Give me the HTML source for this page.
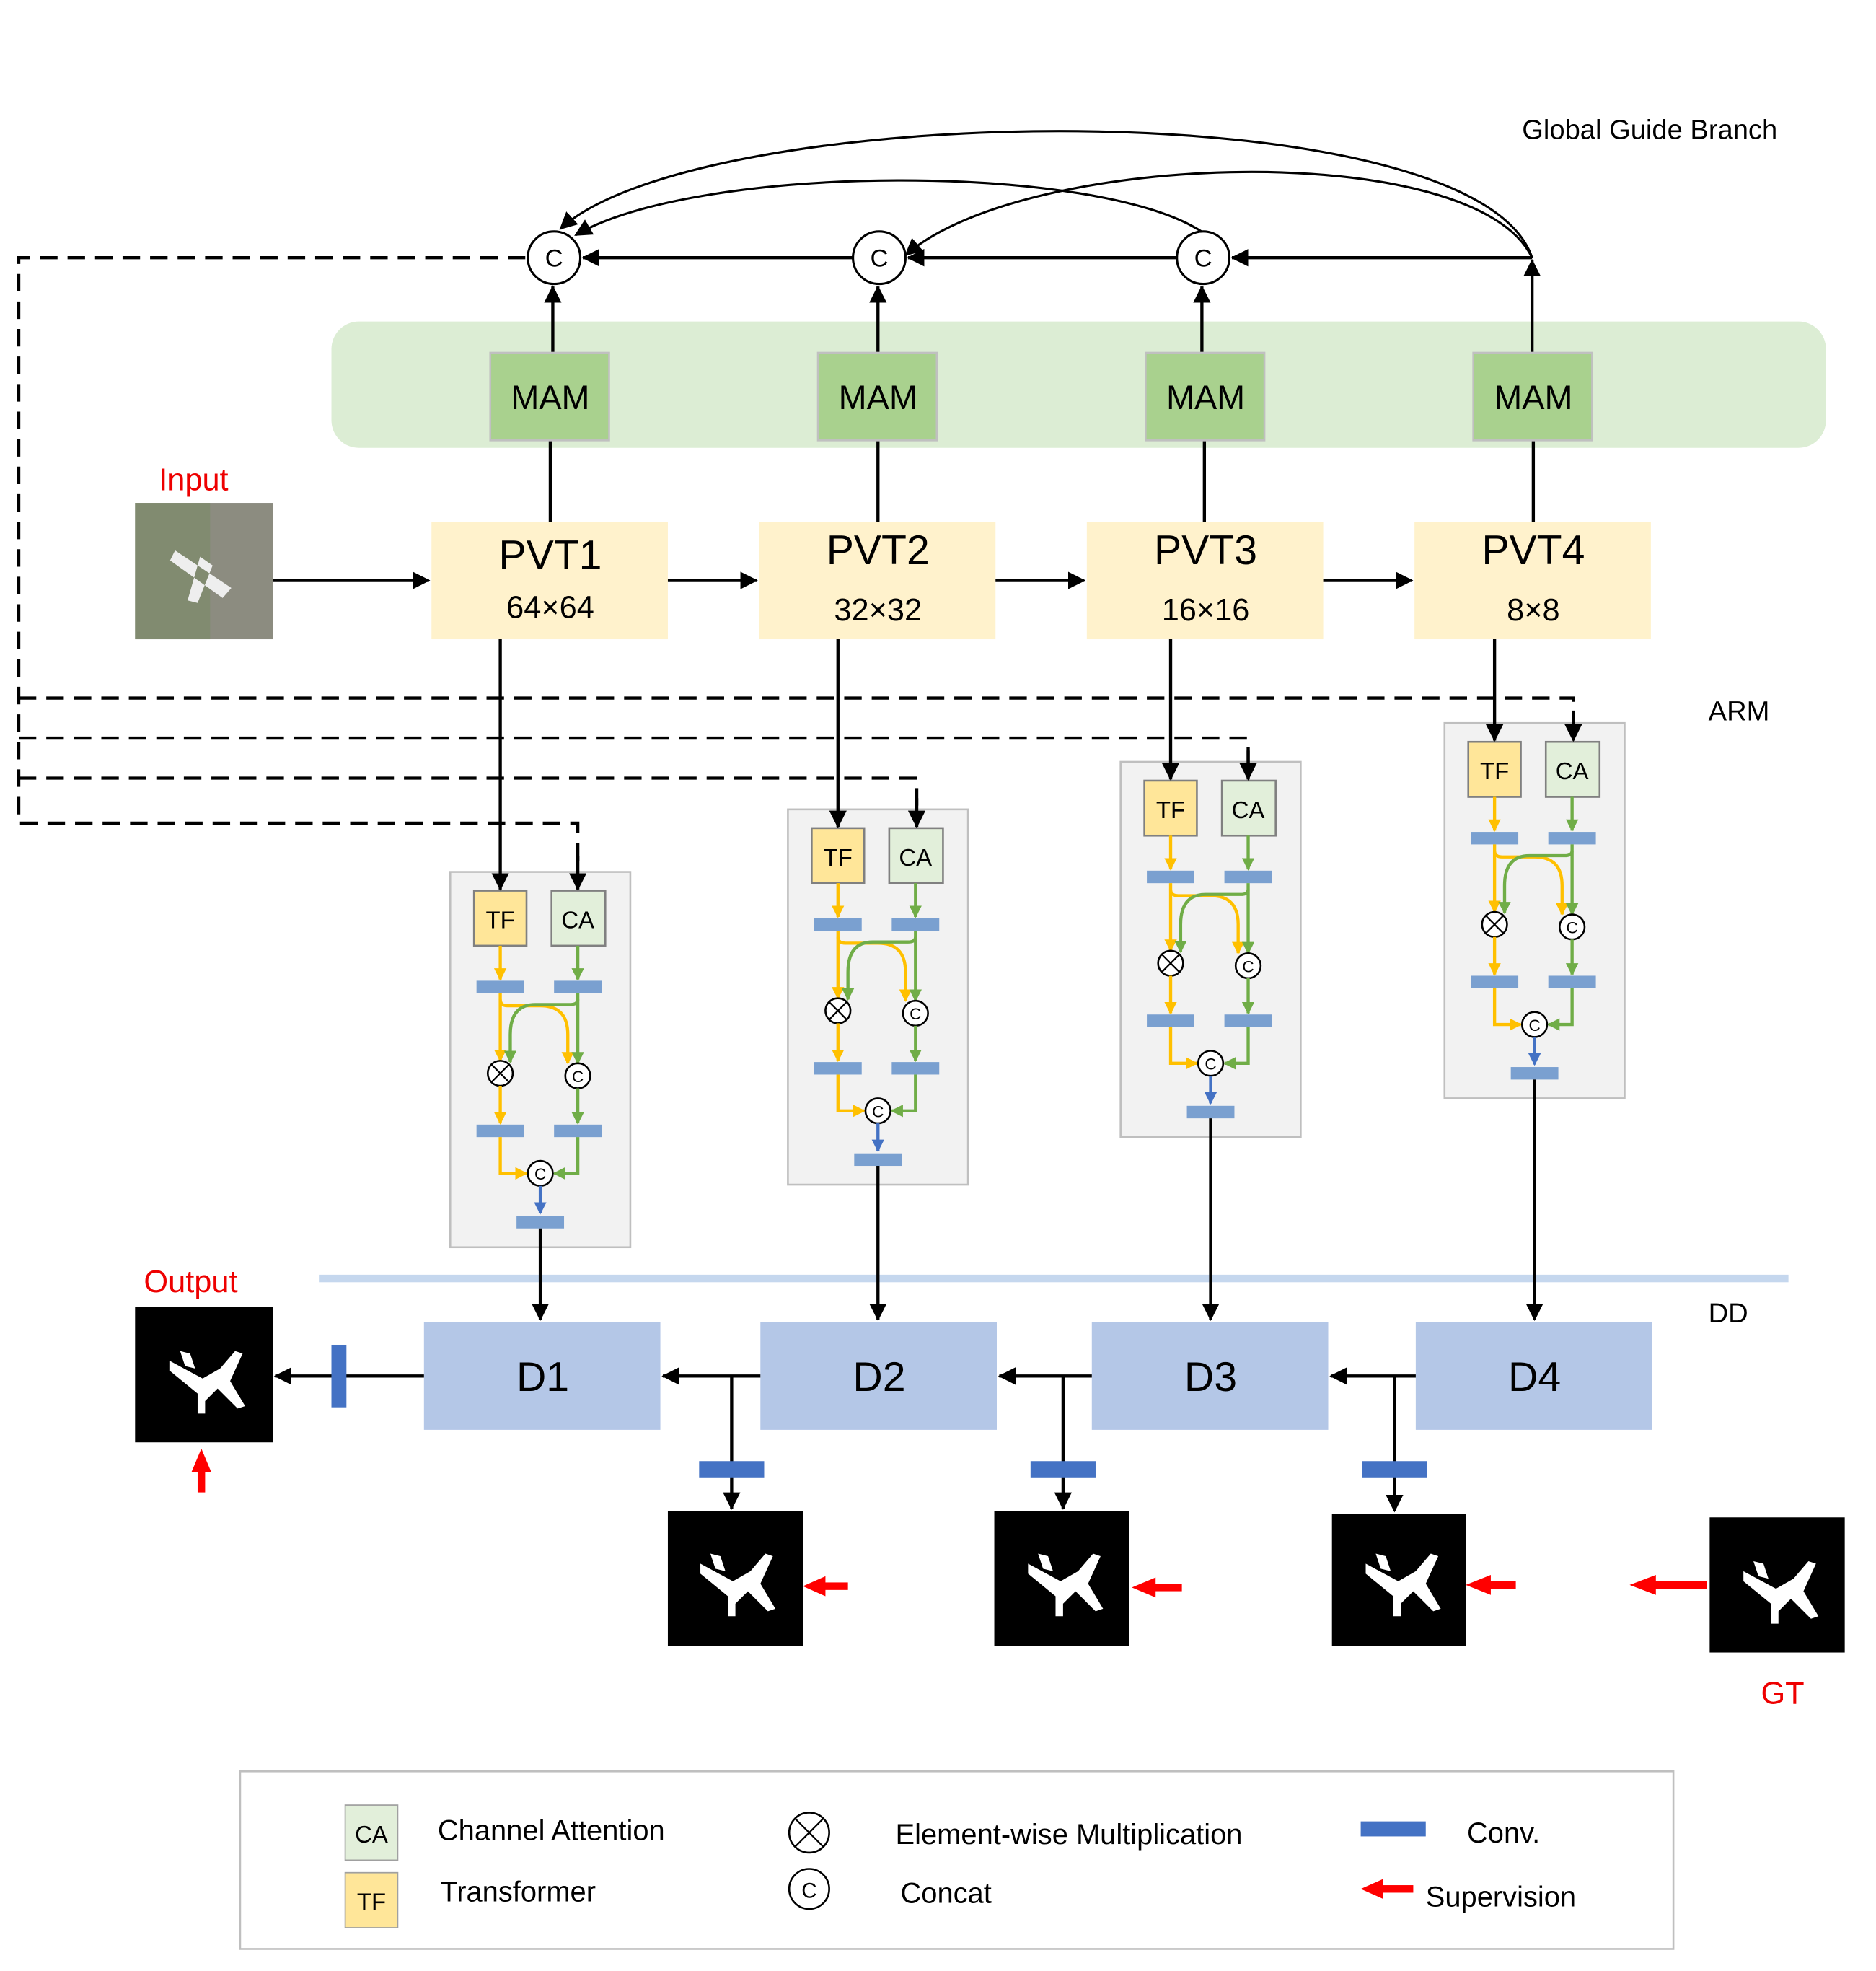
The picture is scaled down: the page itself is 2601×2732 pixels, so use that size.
<!DOCTYPE html>
<html><head><meta charset="utf-8"><style>
html,body{margin:0;padding:0;background:#fff}
svg{display:block}
text{font-family:"Liberation Sans","DejaVu Sans",sans-serif}
</style></head><body>
<svg width="2601" height="2732" viewBox="0 0 1500 1575.6" preserveAspectRatio="none" xmlns="http://www.w3.org/2000/svg">
<defs>
<marker id="akb" markerWidth="14" markerHeight="14" refX="13" refY="7" orient="auto" markerUnits="userSpaceOnUse"><path d="M0,0 L14,7 L0,14z" fill="#000"/></marker>
<marker id="ay" markerWidth="10" markerHeight="10" refX="9" refY="5" orient="auto" markerUnits="userSpaceOnUse"><path d="M0,0 L10,5 L0,10z" fill="#ffc000"/></marker>
<marker id="ag" markerWidth="10" markerHeight="10" refX="9" refY="5" orient="auto" markerUnits="userSpaceOnUse"><path d="M0,0 L10,5 L0,10z" fill="#70ad47"/></marker>
<marker id="ab" markerWidth="10" markerHeight="10" refX="9" refY="5" orient="auto" markerUnits="userSpaceOnUse"><path d="M0,0 L10,5 L0,10z" fill="#4472c4"/></marker>
<g id="plane"><path d="M-30,-12 L-4,2 L10,-6 L22,-20 L28,-18 L18,4 L30,24 L24,26 L8,10 L-2,20 L-2,30 L-8,30 L-8,14 L-30,-4 Z M-22,-20 L-14,-18 L-10,-6 L-18,-8Z" fill="#fff"/></g>
<g id="arm">
<rect x="0" y="0" width="144" height="300" fill="#f2f2f2" stroke="#bfbfbf" stroke-width="1.5"/>
<rect x="19" y="15" width="42" height="44" fill="#ffe699" stroke="#808080" stroke-width="1.5"/>
<rect x="81" y="15" width="43" height="44" fill="#e2efda" stroke="#808080" stroke-width="1.5"/>
<text x="40" y="45" font-size="19" text-anchor="middle">TF</text>
<text x="102" y="45" font-size="19" text-anchor="middle">CA</text>
<line x1="40" y1="59" x2="40" y2="86" stroke="#ffc000" stroke-width="2.5" marker-end="url(#ay)"/>
<line x1="102" y1="59" x2="102" y2="86" stroke="#70ad47" stroke-width="2.5" marker-end="url(#ag)"/>
<rect x="21" y="87" width="38" height="10" fill="#7aa0d0"/>
<rect x="83" y="87" width="38" height="10" fill="#7aa0d0"/>
<path d="M40,97 L40,151" stroke="#ffc000" stroke-width="2.5" fill="none" marker-end="url(#ay)"/>
<path d="M40,102 Q40,107 46,107 L72,107 Q94,107 94,130 L94,153" stroke="#ffc000" stroke-width="2.5" fill="none" marker-end="url(#ay)"/>
<path d="M102,97 L102,153" stroke="#70ad47" stroke-width="2.5" fill="none" marker-end="url(#ag)"/>
<path d="M102,102 Q102,106 96,106 L68,106 Q48,106 48,130 L48,152" stroke="#70ad47" stroke-width="2.5" fill="none" marker-end="url(#ag)"/>
<circle cx="40" cy="161" r="10" fill="#fff" stroke="#000" stroke-width="1.5"/>
<path d="M33,154 L47,168 M47,154 L33,168" stroke="#000" stroke-width="1.3"/>
<circle cx="102" cy="163" r="10" fill="#fff" stroke="#000" stroke-width="1.5"/>
<text x="102" y="168" font-size="13" text-anchor="middle">C</text>
<line x1="40" y1="171" x2="40" y2="201" stroke="#ffc000" stroke-width="2.5" marker-end="url(#ay)"/>
<line x1="102" y1="173" x2="102" y2="201" stroke="#70ad47" stroke-width="2.5" marker-end="url(#ag)"/>
<rect x="21" y="202" width="38" height="10" fill="#7aa0d0"/>
<rect x="83" y="202" width="38" height="10" fill="#7aa0d0"/>
<path d="M40,212 L40,241 L61,241" stroke="#ffc000" stroke-width="2.5" fill="none" marker-end="url(#ay)"/>
<path d="M102,212 L102,241 L83,241" stroke="#70ad47" stroke-width="2.5" fill="none" marker-end="url(#ag)"/>
<circle cx="72" cy="241" r="10" fill="#fff" stroke="#000" stroke-width="1.5"/>
<text x="72" y="246" font-size="13" text-anchor="middle">C</text>
<line x1="72" y1="251" x2="72" y2="273" stroke="#4472c4" stroke-width="2.5" marker-end="url(#ab)"/>
<rect x="53" y="275" width="38" height="10" fill="#7aa0d0"/>
</g>
</defs>

<text x="1217" y="111" font-size="22">Global Guide Branch</text>
<rect x="265" y="257" width="1195" height="101" rx="22" fill="#dcedd4"/>

<path d="M1225,206 C1180,70 560,80 448,183" fill="none" stroke="#000" stroke-width="1.8" marker-end="url(#akb)"/>
<path d="M962,186 C880,130 560,130 460,188" fill="none" stroke="#000" stroke-width="1.8" marker-end="url(#akb)"/>
<path d="M1225,206 C1180,110 820,120 724,204" fill="none" stroke="#000" stroke-width="1.8" marker-end="url(#akb)"/>
<line x1="1225" y1="206" x2="985" y2="206" stroke="#000" stroke-width="2.5" marker-end="url(#akb)"/>
<line x1="941" y1="206" x2="726" y2="206" stroke="#000" stroke-width="2.5" marker-end="url(#akb)"/>
<line x1="682" y1="206" x2="466" y2="206" stroke="#000" stroke-width="2.5" marker-end="url(#akb)"/>
<g fill="#fff" stroke="#000" stroke-width="1.8">
<circle cx="443" cy="206" r="21"/><circle cx="703" cy="206" r="21"/><circle cx="962" cy="206" r="21"/></g>
<g font-size="20" text-anchor="middle"><text x="443" y="213">C</text><text x="703" y="213">C</text><text x="962" y="213">C</text></g>
<g stroke="#000" stroke-width="2.5">
<line x1="442" y1="282" x2="442" y2="229" marker-end="url(#akb)"/>
<line x1="702" y1="282" x2="702" y2="229" marker-end="url(#akb)"/>
<line x1="961" y1="282" x2="961" y2="229" marker-end="url(#akb)"/>
<line x1="1225" y1="282" x2="1225" y2="208" marker-end="url(#akb)"/>
<line x1="440" y1="352" x2="440" y2="417"/><line x1="702" y1="352" x2="702" y2="417"/>
<line x1="963" y1="352" x2="963" y2="417"/><line x1="1226" y1="352" x2="1226" y2="417"/>
</g>
<g fill="#a9d18e" stroke="#c0c0c0" stroke-width="1.5">
<rect x="392" y="282" width="95" height="70"/><rect x="654" y="282" width="95" height="70"/>
<rect x="916" y="282" width="95" height="70"/><rect x="1178" y="282" width="95" height="70"/></g>
<g font-size="27" text-anchor="middle"><text x="440" y="327">MAM</text><text x="702" y="327">MAM</text><text x="964" y="327">MAM</text><text x="1226" y="327">MAM</text></g>

<text x="127" y="392" font-size="25" fill="#e00">Input</text>
<rect x="108" y="402" width="110" height="109" fill="#8c8c80"/>
<rect x="108" y="402" width="60" height="109" fill="#7a8a66" opacity="0.6"/>
<path d="M140,440 L185,470 L178,478 L136,448Z M160,445 L150,480 L158,482 L170,452Z" fill="#eee"/>
<g fill="#fff2cc">
<rect x="345" y="417" width="189" height="94"/><rect x="607" y="417" width="189" height="94"/>
<rect x="869" y="417" width="189" height="94"/><rect x="1131" y="417" width="189" height="94"/></g>
<g font-size="33" text-anchor="middle"><text x="440" y="455">PVT1</text><text x="702" y="451">PVT2</text><text x="964" y="451">PVT3</text><text x="1226" y="451">PVT4</text></g>
<g font-size="25" text-anchor="middle"><text x="440" y="494">64×64</text><text x="702" y="496">32×32</text><text x="964" y="496">16×16</text><text x="1226" y="496">8×8</text></g>
<g stroke="#000" stroke-width="2.5">
<line x1="218" y1="464" x2="343" y2="464" marker-end="url(#akb)"/>
<line x1="534" y1="464" x2="605" y2="464" marker-end="url(#akb)"/>
<line x1="796" y1="464" x2="867" y2="464" marker-end="url(#akb)"/>
<line x1="1058" y1="464" x2="1129" y2="464" marker-end="url(#akb)"/>
</g>
<text x="1366" y="576" font-size="22">ARM</text>
<text x="1366" y="1057" font-size="22">DD</text>

<use href="#arm" x="360" y="697"/>
<use href="#arm" x="630" y="647"/>
<use href="#arm" x="896" y="609"/>
<use href="#arm" x="1155" y="578"/>

<g stroke="#000" stroke-width="2.5" fill="none" stroke-dasharray="14,8">
<path d="M420,206 L15,206 L15,658 L462,658 L462,690"/>
<path d="M15,622 L733,622 L733,644"/>
<path d="M15,590 L998,590 L998,610"/>
<path d="M15,558 L1258,558 L1258,576"/>
</g>
<g stroke="#000" stroke-width="2.5">
<line x1="462" y1="684" x2="462" y2="711" marker-end="url(#akb)"/>
<line x1="733" y1="638" x2="733" y2="661" marker-end="url(#akb)"/>
<line x1="998" y1="600" x2="998" y2="623" marker-end="url(#akb)"/>
<line x1="1258" y1="568" x2="1258" y2="592" marker-end="url(#akb)"/>
<line x1="400" y1="511" x2="400" y2="711" marker-end="url(#akb)"/>
<line x1="670" y1="511" x2="670" y2="661" marker-end="url(#akb)"/>
<line x1="936" y1="511" x2="936" y2="623" marker-end="url(#akb)"/>
<line x1="1195" y1="511" x2="1195" y2="592" marker-end="url(#akb)"/>
</g>

<rect x="255" y="1019" width="1175" height="6" fill="#c5d7ee"/>
<g stroke="#000" stroke-width="2.5">
<line x1="432" y1="982" x2="432" y2="1055" marker-end="url(#akb)"/>
<line x1="702" y1="932" x2="702" y2="1055" marker-end="url(#akb)"/>
<line x1="968" y1="894" x2="968" y2="1055" marker-end="url(#akb)"/>
<line x1="1227" y1="863" x2="1227" y2="1055" marker-end="url(#akb)"/>
</g>
<g fill="#b4c7e7">
<rect x="339" y="1057" width="189" height="86"/><rect x="608" y="1057" width="189" height="86"/>
<rect x="873" y="1057" width="189" height="86"/><rect x="1132" y="1057" width="189" height="86"/></g>
<g font-size="33" text-anchor="middle"><text x="434" y="1112">D1</text><text x="703" y="1112">D2</text><text x="968" y="1112">D3</text><text x="1227" y="1112">D4</text></g>
<g stroke="#000" stroke-width="2.5" fill="none">
<line x1="1132" y1="1100" x2="1064" y2="1100" marker-end="url(#akb)"/>
<line x1="873" y1="1100" x2="799" y2="1100" marker-end="url(#akb)"/>
<line x1="608" y1="1100" x2="530" y2="1100" marker-end="url(#akb)"/>
<line x1="339" y1="1100" x2="220" y2="1100" marker-end="url(#akb)"/>
<line x1="1115" y1="1100" x2="1115" y2="1208" marker-end="url(#akb)"/>
<line x1="850" y1="1100" x2="850" y2="1206" marker-end="url(#akb)"/>
<line x1="585" y1="1100" x2="585" y2="1206" marker-end="url(#akb)"/>
</g>
<g fill="#4472c4">
<rect x="265" y="1075" width="12" height="50"/>
<rect x="559" y="1168" width="52" height="13"/><rect x="824" y="1168" width="52" height="13"/><rect x="1089" y="1168" width="52" height="13"/></g>

<text x="115" y="1033" font-size="25" fill="#e00">Output</text>
<rect x="108" y="1045" width="110" height="108" fill="#000"/><use href="#plane" x="166" y="1100"/>
<rect x="534" y="1208" width="108" height="108" fill="#000"/><use href="#plane" x="590" y="1262"/>
<rect x="795" y="1208" width="108" height="108" fill="#000"/><use href="#plane" x="852" y="1262"/>
<rect x="1065" y="1210" width="107" height="106" fill="#000"/><use href="#plane" x="1122" y="1262"/>
<rect x="1367" y="1213" width="108" height="108" fill="#000"/><use href="#plane" x="1424" y="1268"/>
<text x="1408" y="1362" font-size="25" fill="#e00">GT</text>
<g fill="#f00">
<rect x="658" y="1265" width="20" height="6"/><path d="M642,1268 L660,1260 L660,1276Z"/>
<rect x="922" y="1266" width="23" height="6"/><path d="M905,1269 L924,1261 L924,1277Z"/>
<rect x="1190" y="1264" width="22" height="6"/><path d="M1172,1267 L1192,1259 L1192,1275Z"/>
<rect x="1322" y="1264" width="43" height="6"/><path d="M1303,1267 L1324,1259 L1324,1275Z"/>
<rect x="158" y="1175" width="6" height="18"/><path d="M161,1158 L153,1177 L169,1177Z"/>
</g>

<rect x="192" y="1416" width="1146" height="142" fill="#fff" stroke="#bfbfbf" stroke-width="1.5"/>
<rect x="276" y="1443" width="42" height="44" fill="#e2efda" stroke="#a0a0a0"/><text x="297" y="1473" font-size="19" text-anchor="middle">CA</text>
<rect x="276" y="1497" width="42" height="44" fill="#ffe699" stroke="#a0a0a0"/><text x="297" y="1527" font-size="19" text-anchor="middle">TF</text>
<g font-size="23"><text x="350" y="1471">Channel Attention</text><text x="352" y="1520">Transformer</text>
<text x="716" y="1474">Element-wise Multiplication</text><text x="720" y="1521">Concat</text>
<text x="1173" y="1473">Conv.</text><text x="1140" y="1524">Supervision</text></g>
<circle cx="647" cy="1465" r="16" fill="#fff" stroke="#000" stroke-width="1.5"/>
<path d="M636,1454 L658,1476 M658,1454 L636,1476" stroke="#000" stroke-width="1.3"/>
<circle cx="647" cy="1510" r="16" fill="#fff" stroke="#000" stroke-width="1.5"/><text x="647" y="1517" font-size="17" text-anchor="middle">C</text>
<rect x="1088" y="1456" width="52" height="12" fill="#4472c4"/>
<rect x="1103" y="1507" width="27" height="6" fill="#f00"/><path d="M1088,1510 L1106,1502 L1106,1518Z" fill="#f00"/>
</svg>
</body></html>
